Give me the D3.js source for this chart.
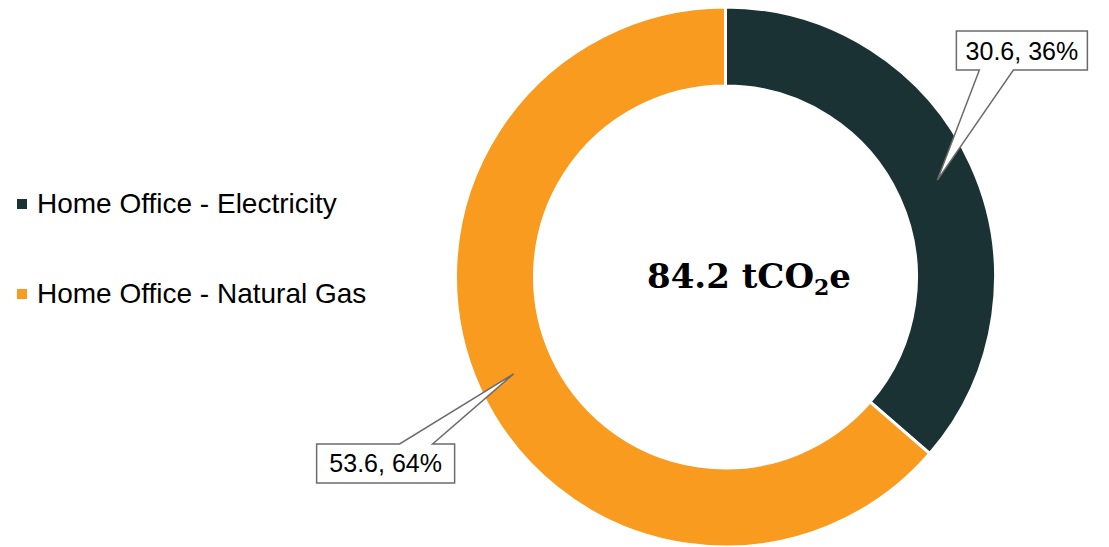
<!DOCTYPE html>
<html>
<head>
<meta charset="utf-8">
<script src="https://cdn.jsdelivr.net/npm/d3@7"></script>
<style>
  body { margin: 0; background: #fff; }
  svg { display: block; }
</style>
</head>
<body>
<div id="chart"></div>
<script>
const categories = ['Home Office - Electricity', 'Home Office - Natural Gas'];
const values = [30.6, 53.6];
const percentLabels = ['36%', '64%'];
const colors = ['#1b3235', '#f89b1e'];
const totalLabel = '84.2';

const width = 1109, height = 547;
const cx = 725.5, cy = 277, outerR = 270, innerR = 191;

const svg = d3.select('#chart').append('svg').attr('width', width).attr('height', height);
const g = svg.append('g').attr('transform', `translate(${cx}, ${cy})`);

const pie = d3.pie().sort(null).value(d => d);
const arc = d3.arc().innerRadius(innerR).outerRadius(outerR);
const arcs = pie(values);

g.selectAll('.slice')
  .data(arcs)
  .enter().append('path')
  .attr('class', 'slice')
  .attr('d', arc)
  .attr('fill', (d, i) => colors[i])
  .attr('stroke', '#fff')
  .attr('stroke-width', 3);

// callout labels (box offsets relative to the pointer tip)
const tipArc = d3.arc().innerRadius(233).outerRadius(233);
const callouts = [
  {box: [19, -149, 131, 39], wedge: 'bottom', w: [42, 76]},
  {box: [-197, 70, 138, 39], wedge: 'top', w: [-114, -81]}
];

arcs.forEach((d, i) => {
  const [tx, ty] = tipArc.centroid(d);
  const c = callouts[i];
  const x0 = tx + c.box[0], y0 = ty + c.box[1];
  const x1 = x0 + c.box[2], y1 = y0 + c.box[3];
  const p = d3.path();
  p.moveTo(x0, y0);
  if (c.wedge === 'top') {
    p.lineTo(tx + c.w[0], y0);
    p.lineTo(tx, ty);
    p.lineTo(tx + c.w[1], y0);
  }
  p.lineTo(x1, y0);
  p.lineTo(x1, y1);
  if (c.wedge === 'bottom') {
    p.lineTo(tx + c.w[1], y1);
    p.lineTo(tx, ty);
    p.lineTo(tx + c.w[0], y1);
  }
  p.lineTo(x0, y1);
  p.closePath();
  g.append('path')
    .attr('d', p.toString())
    .attr('fill', '#fff')
    .attr('stroke', '#6b6b6b')
    .attr('stroke-width', 1.5);
  g.append('text')
    .attr('x', (x0 + x1) / 2)
    .attr('y', (y0 + y1) / 2 + 9)
    .attr('text-anchor', 'middle')
    .attr('font-family', 'Liberation Sans, Arial, sans-serif')
    .attr('font-size', 25)
    .attr('fill', '#000')
    .text(`${values[i]}, ${percentLabels[i]}`);
});

// centre total
const t = svg.append('text')
  .attr('x', 749)
  .attr('y', 288)
  .attr('text-anchor', 'middle')
  .attr('font-family', 'DejaVu Serif, Liberation Serif, serif')
  .attr('font-weight', 'bold')
  .attr('font-size', 34)
  .attr('fill', '#000');
t.append('tspan').text(`${totalLabel} tCO`);
t.append('tspan').attr('font-size', 22).attr('dy', 7).text('2');
t.append('tspan').attr('dy', -7).text('e');

// legend
const legend = svg.append('g').attr('transform', 'translate(17, 199)');
const item = legend.selectAll('.item')
  .data(categories)
  .enter().append('g')
  .attr('class', 'item')
  .attr('transform', (d, i) => `translate(0, ${i * 90})`);
item.append('rect')
  .attr('width', 10).attr('height', 10)
  .attr('fill', (d, i) => colors[i]);
item.append('text')
  .attr('x', 20).attr('y', 14)
  .attr('font-family', 'Liberation Sans, Arial, sans-serif')
  .attr('font-size', 28)
  .attr('fill', '#000')
  .text(d => d);
</script>
</body>
</html>
